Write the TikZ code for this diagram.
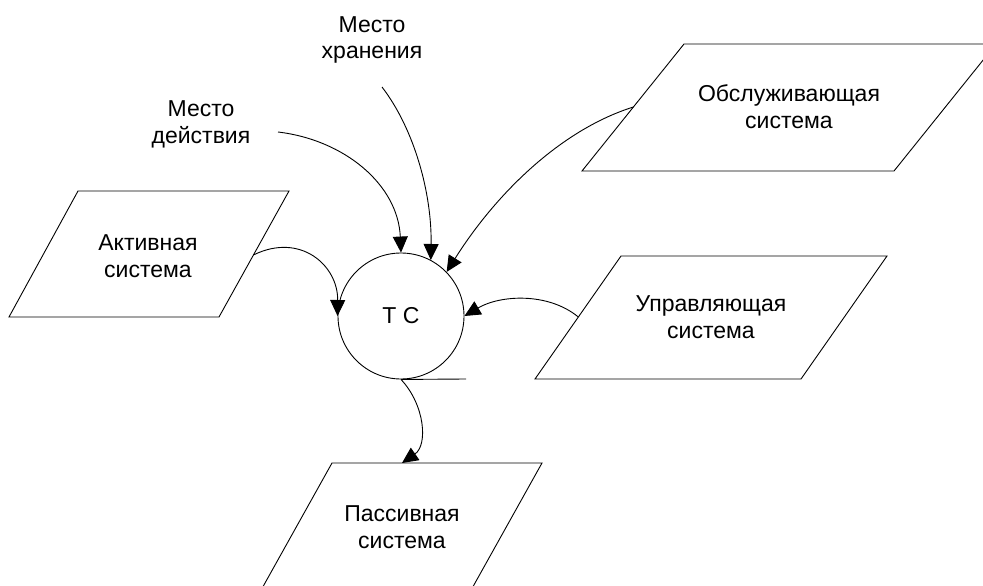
\documentclass[tikz,border=0pt]{standalone}
\usepackage{fontspec}
\setmainfont{Liberation Sans}
\usetikzlibrary{arrows.meta}
\begin{document}
\begin{tikzpicture}[x=1pt,y=-1pt,
  lbl/.style={align=center,anchor=base,inner sep=0pt,font=\fontsize{23}{26.6}\selectfont},
  shp/.style={draw=black,line width=0.9pt,line join=miter},
  arr/.style={draw=black,line width=0.9pt,-{Triangle[length=16pt,width=15pt]}},
  lnk/.style={draw=black,line width=0.9pt}]
\useasboundingbox (0,0) rectangle (983,586);
\clip (0,0) rectangle (983,586);
% parallelograms
\draw[shp] (78,191) -- (289,191) -- (219,317) -- (9,317) -- cycle;
\draw[shp] (684,44) -- (996,44) -- (894,171) -- (582,171) -- cycle;
\draw[shp] (621,256) -- (887,256) -- (801,379) -- (535,379) -- cycle;
\draw[shp] (332,463) -- (542,463) -- (470,592) -- (260,592) -- cycle;
% text nodes
\node[lbl] (mh) at (372,58.9) {Место\\хранения};
\node[lbl] (md) at (201,143.3) {Место\\действия};
\node[lbl] (act) at (148,277) {Активная\\система};
\node[lbl] (obs) at (789,128.3) {Обслуживающая\\система};
\node[lbl] (upr) at (711,338.3) {Управляющая\\система};
\node[lbl] (pas) at (402,548.3) {Пассивная\\система};
\node[draw=black,line width=0.9pt,circle,minimum size=126pt,inner sep=0pt,
      font=\fontsize{23}{26.6}\selectfont] (tc) at (401,316) {Т С};
% connector end points
\coordinate (actR) at (253.4,255);
\coordinate (mdS) at (278,132);
\coordinate (mhS) at (382,87);
\coordinate (obsL) at (633.4,107);
\coordinate (uprL) at (578.3,317);
\coordinate (pasT) at (402,463);
\coordinate (tcR) at (466,379);
% connectors
\draw[arr] (actR) .. controls (300,232) and (338,265) .. (tc.west);
\draw[arr] (mdS) .. controls (345,140) and (398,185) .. (tc.north);
\draw[arr] (mhS) .. controls (415,130) and (432,195) .. (tc.62);
\draw[arr] (obsL) .. controls (560,130) and (495,195) .. (tc.44);
\draw[arr] (uprL) .. controls (548,292) and (500,295) .. (tc.east);
\draw[lnk] (tc.south) -- (tcR);
\draw[arr] (tc.south) .. controls (425,405) and (428,445) .. (pasT);
\end{tikzpicture}
\end{document}
